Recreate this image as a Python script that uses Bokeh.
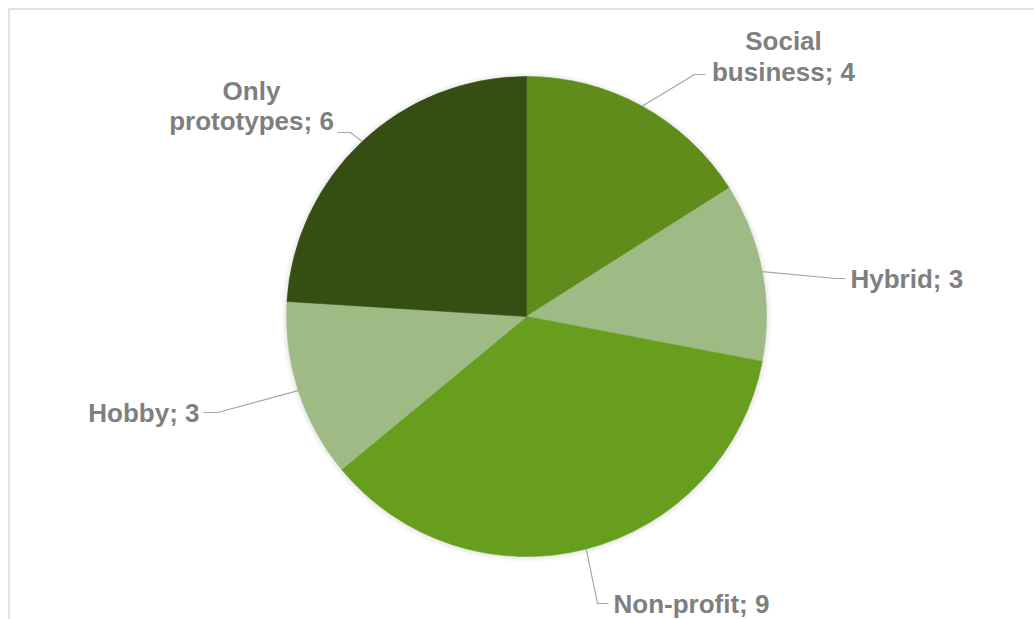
import math
from bokeh.plotting import figure
from bokeh.models import Range1d, ColumnDataSource
from bokeh.core.properties import value
from bokeh.embed import file_html
from bokeh.resources import INLINE

# ---- data ----
categories = ["Social business", "Hybrid", "Non-profit", "Hobby", "Only prototypes"]
counts = [4, 3, 9, 3, 6]
colors = ["#5F8C1B", "#9EBB86", "#689E1E", "#9EBB86", "#354F12"]

# ---- layout (page pixels) ----
W, H = 1034, 619
OX, OY = 0, 0
def X(px): return px - OX
def Y(py): return (OY + H) - py

CX, CY, R = X(526), Y(316), 240

label_lines = [["Social", "business; 4"], ["Hybrid; 3"], ["Non-profit; 9"], ["Hobby; 3"], ["Only", "prototypes; 6"]]
label_x = [783, 850, 613, 199, 251]
label_base = [[40, 71], [278], [603], [412], [90, 120]]
label_align = ["center", "left", "left", "right", "center"]
elbow = [(694, 74), (835, 278), (597, 603), (217, 412), (350, 132)]
leader_end = [(705, 74), (845, 278), (608, 603), (203, 412), (337, 132)]

p = figure(width=W, height=H, x_range=Range1d(0, W), y_range=Range1d(0, H),
           x_axis_type=None, y_axis_type=None, toolbar_location=None,
           output_backend="svg", min_border=0, outline_line_color=None)
p.grid.visible = False
p.background_fill_color = "white"
p.border_fill_color = "white"

# frame (top and left edges)
p.line([X(8), W], [Y(8.5), Y(8.5)], line_color="#D9D9D9", line_width=1.5)
p.line([X(8.5), X(8.5)], [0, Y(8.5)], line_color="#D9D9D9", line_width=1.5)

# soft shadow
for k in range(1, 6):
    p.circle(x=[CX], y=[CY - 0.5], radius=R + k, fill_color="#808080",
             fill_alpha=0.035, line_color=None)

total = float(sum(counts))
starts, ends, mids = [], [], []
cum = 0.0
for c in counts:
    a0 = cum / total * 2 * math.pi
    cum += c
    a1 = cum / total * 2 * math.pi
    starts.append(math.pi / 2 - a0)
    ends.append(math.pi / 2 - a1)
    mids.append((a0 + a1) / 2)

src = ColumnDataSource(dict(start=starts, end=ends, color=colors, cat=categories, n=counts))
p.wedge(x=CX, y=CY, radius=R, start_angle="start", end_angle="end", direction="clock",
        fill_color="color", line_color="color", line_width=0.6, source=src)

# leader lines
xs, ys = [], []
for i, m in enumerate(mids):
    sx = CX + R * math.sin(m)
    sy = CY + R * math.cos(m)
    xs.append([sx, X(elbow[i][0]), X(leader_end[i][0])])
    ys.append([sy, Y(elbow[i][1]), Y(leader_end[i][1])])
p.multi_line(xs, ys, line_color="#A6A6A6", line_width=1.2)

# labels
for i in range(len(categories)):
    for line, b in zip(label_lines[i], label_base[i]):
        p.text(x=[X(label_x[i])], y=[Y(b)], text=[line], text_align=label_align[i],
               text_baseline="alphabetic", text_color="#7F7F7F",
               text_font=value("Liberation Sans"), text_font_style="bold",
               text_font_size="26px")

open("out.html", "w").write(file_html(p, INLINE))
